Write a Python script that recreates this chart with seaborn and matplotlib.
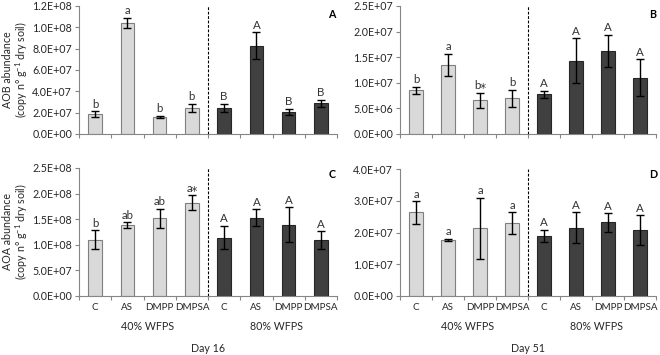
import matplotlib
matplotlib.use("Agg")
import matplotlib.pyplot as plt
from matplotlib.ticker import FuncFormatter, FixedLocator, MultipleLocator
import seaborn as sns
import pandas as pd
import numpy as np

sns.set_style("white")
plt.rcParams['font.family'] = ['Lato', 'DejaVu Sans']
plt.rcParams['mathtext.default'] = 'regular'

treatments = ["C", "AS", "DMPP", "DMPSA"]
moisture = ["40% WFPS", "80% WFPS"]

# Panel A: AOB, Day 16
aob16_mean = [1.87e7, 1.045e8, 1.59e7, 2.45e7, 2.46e7, 8.28e7, 2.06e7, 2.86e7]
aob16_err = [2.6e6, 4.7e6, 1.0e6, 3.6e6, 3.7e6, 1.26e7, 3.0e6, 3.3e6]
aob16_lab = ["b", "a", "b", "b", "B", "A", "B", "B"]
# Panel B: AOB, Day 51
aob51_mean = [8.58e6, 1.345e7, 6.55e6, 6.94e6, 7.72e6, 1.435e7, 1.62e7, 1.10e7]
aob51_err = [6.8e5, 2.2e6, 1.46e6, 1.7e6, 6.8e5, 4.35e6, 3.2e6, 3.6e6]
aob51_lab = ["b", "a", "b\u204e", "b", "A", "A", "A", "A"]
# Panel C: AOA, Day 16
aoa16_mean = [1.098e8, 1.388e8, 1.516e8, 1.82e8, 1.142e8, 1.53e8, 1.394e8, 1.09e8]
aoa16_err = [1.87e7, 5.5e6, 1.9e7, 1.48e7, 2.3e7, 1.65e7, 3.4e7, 1.77e7]
aoa16_lab = ["b", "ab", "ab", "a\u204e", "A", "A", "A", "A"]
# Panel D: AOA, Day 51
aoa51_mean = [2.63e7, 1.77e7, 2.13e7, 2.29e7, 1.89e7, 2.15e7, 2.32e7, 2.08e7]
aoa51_err = [3.5e6, 3.0e5, 9.6e6, 3.4e6, 1.95e6, 4.9e6, 2.9e6, 4.6e6]
aoa51_lab = ["a", "a", "a", "a", "A", "A", "A", "A"]

panels = [
    dict(mean=aob16_mean, err=aob16_err, lab=aob16_lab, ymax=1.2e8, step=2e7, letter="A"),
    dict(mean=aob51_mean, err=aob51_err, lab=aob51_lab, ymax=2.5e7, step=5e6, letter="B"),
    dict(mean=aoa16_mean, err=aoa16_err, lab=aoa16_lab, ymax=2.5e8, step=5e7, letter="C"),
    dict(mean=aoa51_mean, err=aoa51_err, lab=aoa51_lab, ymax=4.0e7, step=1e7, letter="D"),
]

W, H = 660, 355
fig = plt.figure(figsize=(W / 100, H / 100), dpi=100)

def px_axes(x0, y0, x1, y1):
    return fig.add_axes([x0 / W, 1 - y1 / H, (x1 - x0) / W, (y1 - y0) / H])

boxes = [(79, 6, 337, 134), (400, 6, 656, 134), (79, 168, 337, 296), (400, 169, 656, 296)]
txt = "#262626"
axcol = "#868686"
fs = 7.7
xfs = 7.1
lfs = 8.3
light = "#D9D9D9"
dark = "#404040"

for i, (p, box) in enumerate(zip(panels, boxes)):
    ax = px_axes(*box)
    keys = [f"{m}|{t}" for m in moisture for t in treatments]
    df = pd.DataFrame({
        "key": keys,
        "value": p["mean"],
        "wfps": [m for m in moisture for _ in treatments],
    })
    sns.barplot(data=df, x="key", y="value", hue="wfps", order=keys,
                palette={moisture[0]: light, moisture[1]: dark},
                dodge=False, width=0.42, errorbar=None, legend=False,
                edgecolor=None, linewidth=0.8, ax=ax)
    for j, patch in enumerate(ax.patches):
        patch.set_edgecolor("#7f7f7f" if patch.get_facecolor()[0] > 0.5 else "#262626")
    xs = np.arange(len(keys))
    ax.errorbar(xs, p["mean"], yerr=p["err"], fmt="none", ecolor="black",
                elinewidth=1.0, capsize=3, capthick=1.0)
    off = p["ymax"] * 0.012
    for x, m, e, l in zip(xs, p["mean"], p["err"], p["lab"]):
        ax.text(x, m + e + off, l, ha="center", va="bottom", fontsize=lfs, color="#333333")
    ax.set_xlim(-0.5, 7.5)
    ax.set_ylim(0, p["ymax"])
    ax.yaxis.set_major_locator(MultipleLocator(p["step"]))
    ax.yaxis.set_major_formatter(FuncFormatter(lambda v, pos: f"{v:.1E}"))
    ax.axvline(3.5, color="black", linestyle=(0, (2.5, 1.5)), linewidth=0.8)
    ax.set_xlabel("")
    ax.set_ylabel("")
    for s in ["top", "right"]:
        ax.spines[s].set_visible(False)
    for s in ["left", "bottom"]:
        ax.spines[s].set_color(axcol)
        ax.spines[s].set_linewidth(0.8)
    ax.tick_params(axis="y", which="major", direction="out", length=3, width=0.8,
                   color=axcol, labelsize=fs, labelcolor=txt, left=True, pad=2)
    ax.xaxis.set_major_locator(FixedLocator(xs))
    ax.xaxis.set_minor_locator(FixedLocator(np.arange(-0.5, 8.0, 1.0)))
    if i >= 2:
        ax.set_xticklabels(treatments * 2)
    else:
        ax.set_xticklabels([])
    ax.tick_params(axis="x", which="major", length=0, labelsize=xfs, labelcolor=txt, pad=5)
    ax.tick_params(axis="x", which="minor", direction="out", length=3, width=0.8,
                   color=axcol, bottom=True)
    ax.grid(False)
    # panel letter
    lx = 332 if i % 2 == 0 else 653
    ly = 14 if i < 2 else 175
    fig.text(lx / W, 1 - ly / H, p["letter"], ha="center", va="center",
             fontsize=fs, fontweight="bold", color="black")
    if i >= 2:
        x0, _, x1, _ = box
        mid = (x0 + x1) / 2
        fig.text((x0 + (x1 - x0) * 0.25 + 4) / W, 1 - 327 / H, moisture[0], ha="center",
                 va="center", fontsize=fs, color=txt)
        fig.text((x0 + (x1 - x0) * 0.75 + 4) / W, 1 - 327 / H, moisture[1], ha="center",
                 va="center", fontsize=fs, color=txt)
        fig.text(mid / W, 1 - 348 / H, "Day 16" if i == 2 else "Day 51", ha="center",
                 va="center", fontsize=fs, color=txt)

ylab2 = "(copy n° g$^{-1}$ dry soil)"
fig.text(16 / W, 1 - 70 / H, "AOB abundance\n" + ylab2, rotation=90, ha="center",
         va="center", multialignment="center", linespacing=1.0, fontsize=fs, color=txt)
fig.text(16 / W, 1 - 232 / H, "AOA abundance\n" + ylab2, rotation=90, ha="center",
         va="center", multialignment="center", linespacing=1.0, fontsize=fs, color=txt)

fig.savefig("out.png", dpi=100)
